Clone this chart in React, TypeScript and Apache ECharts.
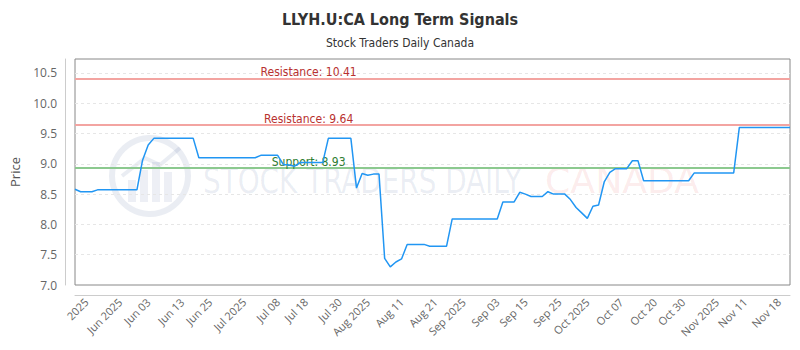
import React, { useEffect, useRef } from "react";
import * as echarts from "echarts";

const categories: string[] = [
  "2025-05-21","2025-05-22","2025-05-23","2025-05-26","2025-05-27","2025-05-28","2025-05-29","2025-05-30",
  "2025-06-02","2025-06-03","2025-06-04","2025-06-05","2025-06-06","2025-06-09","2025-06-10","2025-06-11",
  "2025-06-12","2025-06-13","2025-06-16","2025-06-17","2025-06-18","2025-06-19","2025-06-20","2025-06-23",
  "2025-06-24","2025-06-25","2025-06-26","2025-06-27","2025-06-30",
  "2025-07-02","2025-07-03","2025-07-04","2025-07-07","2025-07-08","2025-07-09","2025-07-10","2025-07-11",
  "2025-07-14","2025-07-15","2025-07-16","2025-07-17","2025-07-18","2025-07-21","2025-07-22","2025-07-23",
  "2025-07-24","2025-07-25","2025-07-28","2025-07-29","2025-07-30","2025-07-31",
  "2025-08-01","2025-08-05","2025-08-06","2025-08-07","2025-08-08","2025-08-11","2025-08-12","2025-08-13",
  "2025-08-14","2025-08-15","2025-08-18","2025-08-19","2025-08-20","2025-08-21","2025-08-22","2025-08-25",
  "2025-08-26","2025-08-27","2025-08-28","2025-08-29",
  "2025-09-02","2025-09-03","2025-09-04","2025-09-05","2025-09-08","2025-09-09","2025-09-10","2025-09-11",
  "2025-09-12","2025-09-15","2025-09-16","2025-09-17","2025-09-18","2025-09-19","2025-09-22","2025-09-23",
  "2025-09-24","2025-09-25","2025-09-26","2025-09-29","2025-09-30",
  "2025-10-01","2025-10-02","2025-10-03","2025-10-06","2025-10-07","2025-10-08","2025-10-09","2025-10-10",
  "2025-10-14","2025-10-15","2025-10-16","2025-10-17","2025-10-20","2025-10-21","2025-10-22","2025-10-23",
  "2025-10-24","2025-10-27","2025-10-28","2025-10-29","2025-10-30","2025-10-31",
  "2025-11-03","2025-11-04","2025-11-05","2025-11-06","2025-11-07","2025-11-10","2025-11-11","2025-11-12",
  "2025-11-13","2025-11-14","2025-11-17","2025-11-18","2025-11-19","2025-11-20",
];

const prices: number[] = [
  8.58, 8.54, 8.54, 8.54, 8.57, 8.57, 8.57, 8.57, 8.57, 8.57, 8.57, 8.57,
  9.06, 9.31,
  9.42, 9.42, 9.42, 9.42, 9.42, 9.42, 9.42, 9.42,
  9.10, 9.10, 9.10, 9.10, 9.10, 9.10, 9.10, 9.10, 9.10, 9.10, 9.10,
  9.14, 9.14, 9.14, 9.14,
  8.99, 8.98, 8.96,
  9.02, 9.02, 9.02, 9.02, 9.02,
  9.42, 9.42, 9.42, 9.42, 9.42,
  8.60, 8.84, 8.81, 8.83, 8.83,
  7.44, 7.30, 7.38, 7.43,
  7.67, 7.67, 7.67, 7.67,
  7.64, 7.64, 7.64, 7.64,
  8.09, 8.09, 8.09, 8.09, 8.09, 8.09, 8.09, 8.09, 8.09,
  8.37, 8.37, 8.37,
  8.53, 8.50,
  8.46, 8.46, 8.46,
  8.54,
  8.50, 8.50, 8.50,
  8.41, 8.28, 8.19, 8.10, 8.30, 8.32,
  8.70, 8.86,
  8.92, 8.92, 8.92,
  9.05, 9.05,
  8.72, 8.72, 8.72, 8.72, 8.72, 8.72, 8.72, 8.72, 8.72,
  8.85, 8.85, 8.85, 8.85, 8.85, 8.85, 8.85, 8.85,
  9.60, 9.60, 9.60, 9.60, 9.60, 9.60, 9.60, 9.60, 9.60, 9.60,
];

const tickLabels: string[] = [
  "2025", "Jun 2025", "Jun 03", "Jun 13", "Jun 25", "Jul 2025", "Jul 08", "Jul 18",
  "Jul 30", "Aug 2025", "Aug 11", "Aug 21", "Sep 2025", "Sep 03", "Sep 15", "Sep 25",
  "Oct 2025", "Oct 07", "Oct 20", "Oct 30", "Nov 2025", "Nov 11", "Nov 18",
];

const resistanceLevels: number[] = [10.41, 9.64];
const supportLevels: number[] = [8.93];

const NARROW = "'Liberation Sans Narrow', 'DejaVu Sans Condensed', 'Roboto Condensed', Roboto, sans-serif";

export default function App() {
  const ref = useRef<HTMLDivElement>(null);

  useEffect(() => {
    if (!ref.current) return;
    const chart = echarts.init(ref.current, undefined, { renderer: "svg" });

    const firstLabelIdx = 2;
    const lastLabelIdx = 125;
    const step = (lastLabelIdx - firstLabelIdx) / (tickLabels.length - 1);
    const labelMap = new Map<number, string>();
    tickLabels.forEach((t, k) => {
      labelMap.set(Math.round(firstLabelIdx + k * step), t);
    });

    const labelMid = 83;
    const markData: any[] = [];
    const addLevel = (v: number, lineColor: string, textColor: string, prefix: string) => {
      markData.push({
        yAxis: v,
        lineStyle: { color: lineColor, width: 2, type: "solid" },
        label: { show: false },
      });
      markData.push([
        {
          coord: [0, v],
          lineStyle: { color: "rgba(0,0,0,0)", width: 0 },
          label: {
            show: true,
            position: "insideMiddleTop",
            formatter: prefix + v.toFixed(2),
            color: textColor,
            fontSize: 12,
            fontFamily: NARROW,
            distance: 0,
          },
        },
        { coord: [labelMid, v] },
      ]);
    };
    resistanceLevels.forEach((v) => addLevel(v, "#f3a4a1", "#b8312f", "Resistance: "));
    supportLevels.forEach((v) => addLevel(v, "#8cc98f", "#2e7d32", "Support: "));

    chart.setOption({
      animation: false,
      backgroundColor: "#ffffff",
      title: [
        {
          text: "LLYH.U:CA Long Term Signals",
          left: "center",
          top: 6,
          textStyle: { fontSize: 16, fontWeight: "bold", color: "#333", fontFamily: NARROW },
        },
        {
          text: "Stock Traders Daily Canada",
          left: "center",
          top: 32,
          textStyle: { fontSize: 12, fontWeight: "normal", color: "#333", fontFamily: NARROW },
        },
      ],
      graphic: [
        {
          type: "group",
          silent: true,
          z: 0,
          children: [
            {
              type: "circle",
              shape: { cx: 150, cy: 176, r: 38 },
              style: { fill: "rgba(0,0,0,0)", stroke: "rgba(50,80,140,0.1)", lineWidth: 6 },
            },
            { type: "rect", shape: { x: 128, y: 180, width: 8, height: 22 }, style: { fill: "rgba(50,80,140,0.09)" } },
            { type: "rect", shape: { x: 140, y: 170, width: 8, height: 32 }, style: { fill: "rgba(50,80,140,0.09)" } },
            { type: "rect", shape: { x: 152, y: 162, width: 8, height: 40 }, style: { fill: "rgba(50,80,140,0.09)" } },
            { type: "rect", shape: { x: 164, y: 172, width: 8, height: 30 }, style: { fill: "rgba(50,80,140,0.09)" } },
            {
              type: "polyline",
              shape: { points: [[122, 176], [145, 158], [160, 165], [180, 148]] },
              style: { stroke: "rgba(50,80,140,0.1)", lineWidth: 4, fill: "none" },
            },
            {
              type: "text",
              x: 203,
              y: 181,
              scaleX: 0.86,
              style: {
                text: "STOCK TRADERS DAILY",
                fontSize: 36,
                fontFamily: NARROW,
                fill: "rgba(50,80,140,0.1)",
                verticalAlign: "middle",
                align: "left",
              },
            },
            {
              type: "text",
              x: 545,
              y: 181,
              scaleX: 1.12,
              style: {
                text: "CANADA",
                fontSize: 36,
                fontFamily: NARROW,
                fill: "rgba(230,70,70,0.11)",
                verticalAlign: "middle",
                align: "left",
              },
            },
          ],
        },
      ],
      grid: { left: 71, right: 10, top: 59, bottom: 65, show: true, borderColor: "#888", borderWidth: 1 },
      xAxis: {
        type: "category",
        data: categories,
        boundaryGap: false,
        offset: 10,
        axisLine: { show: true, lineStyle: { color: "#ccc" } },
        axisTick: { show: false },
        splitLine: { show: false },
        axisLabel: {
          rotate: 45,
          fontSize: 11,
          color: "#666",
          fontFamily: "'Open Sans', sans-serif",
          margin: 5,
          interval: (idx: number) => labelMap.has(idx),
          formatter: (_v: string, idx: number) => labelMap.get(idx) ?? "",
        },
      },
      yAxis: {
        type: "value",
        min: 7,
        max: 10.73,
        interval: 0.5,
        offset: 10,
        name: "Price",
        nameLocation: "middle",
        nameGap: 44,
        nameTextStyle: { fontSize: 13, color: "#555", fontFamily: "'Open Sans', sans-serif" },
        axisLine: { show: true, lineStyle: { color: "#ccc" } },
        axisTick: { show: false },
        axisLabel: {
          fontSize: 12,
          color: "#666",
          fontFamily: "'Open Sans', sans-serif",
          showMaxLabel: false,
          margin: 8,
          formatter: (v: number) => v.toFixed(1),
        },
        splitLine: {
          show: true,
          showMinLine: false,
          showMaxLine: false,
          lineStyle: { color: "#e6e6e6", type: [3, 3] },
        },
      },
      series: [
        {
          type: "line",
          data: prices,
          symbol: "none",
          z: 5,
          lineStyle: { color: "#2196f3", width: 1.5 },
          markLine: {
            silent: true,
            symbol: "none",
            data: markData,
          },
        },
      ],
    });

    return () => chart.dispose();
  }, []);

  return (
    <div
      ref={ref}
      style={{ position: "absolute", left: 0, top: 0, width: 800, height: 350 }}
    />
  );
}
